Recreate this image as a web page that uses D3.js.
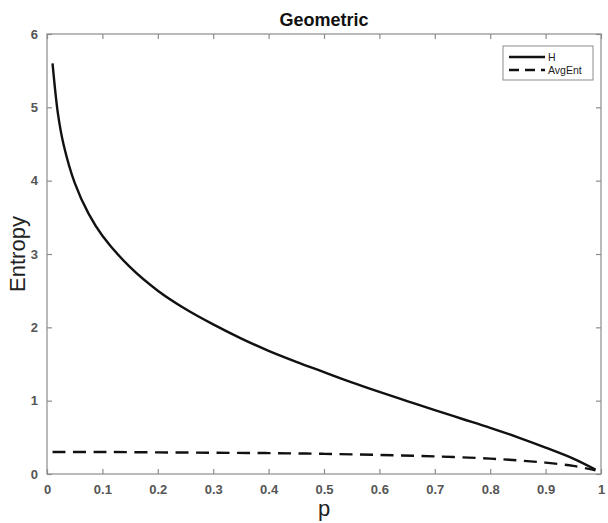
<!DOCTYPE html>
<html><head><meta charset="utf-8">
<script src="https://cdn.jsdelivr.net/npm/d3@7"></script>
<style>body{margin:0;background:#fff}svg{display:block}</style>
</head><body>
<script>
const title = "Geometric";
const xLabel = "p";
const yLabel = "Entropy";
const xTicks = [0,0.1,0.2,0.3,0.4,0.5,0.6,0.7,0.8,0.9,1];
const xTickLabels = ["0","0.1","0.2","0.3","0.4","0.5","0.6","0.7","0.8","0.9","1"];
const yTicks = [0,1,2,3,4,5,6];
const seriesNames = ["H","AvgEnt"];
const pH = [0.01,0.02,0.03,0.05,0.075,0.1,0.15,0.2,0.25,0.3,0.35,0.4,0.45,0.5,0.55,0.6,0.65,0.7,0.75,0.8,0.85,0.9,0.95,0.99];
const valH = [5.60,4.90,4.49,3.97,3.55,3.25,2.82,2.50,2.25,2.04,1.85,1.68,1.53,1.39,1.25,1.12,0.995,0.87,0.75,0.63,0.50,0.36,0.21,0.06];
const pAvg = [0.01,0.1,0.2,0.3,0.4,0.5,0.6,0.7,0.8,0.85,0.9,0.95,0.99];
const valAvg = [0.30,0.30,0.295,0.29,0.285,0.275,0.26,0.24,0.21,0.185,0.155,0.11,0.05];

const W=608,H=523;
const L=47,R=601,T=34,B=474;
const svg=d3.select("body").append("svg").attr("width",W).attr("height",H);
const x=d3.scaleLinear().domain([0,1]).range([L,R]);
const y=d3.scaleLinear().domain([0,6]).range([B,T]);
const font="Liberation Sans, Arial, Helvetica, sans-serif";
const axisCol="#8c8c8c", labCol="#555";

svg.append("rect").attr("x",L).attr("y",T).attr("width",R-L).attr("height",B-T)
  .attr("fill","none").attr("stroke",axisCol).attr("stroke-width",1.2);

const tl=5;
const gx=svg.append("g").attr("transform",`translate(0,${B})`)
  .call(d3.axisBottom(x).tickValues(xTicks).tickFormat((d,i)=>xTickLabels[i]).tickSizeInner(-tl).tickSizeOuter(0).tickPadding(11));
const gxt=svg.append("g").attr("transform",`translate(0,${T})`)
  .call(d3.axisTop(x).tickValues(xTicks).tickFormat("").tickSizeInner(-tl).tickSizeOuter(0));
const gy=svg.append("g").attr("transform",`translate(${L},0)`)
  .call(d3.axisLeft(y).tickValues(yTicks).tickFormat(d3.format("d")).tickSizeInner(-tl).tickSizeOuter(0).tickPadding(9));
const gyr=svg.append("g").attr("transform",`translate(${R},0)`)
  .call(d3.axisRight(y).tickValues(yTicks).tickFormat("").tickSizeInner(-tl).tickSizeOuter(0));
[gx,gxt,gy,gyr].forEach(g=>{
  g.select(".domain").remove();
  g.selectAll("line").attr("stroke",axisCol).attr("stroke-width",1.2);
  g.selectAll("text").attr("fill",labCol).attr("font-family",font).attr("font-size",13).attr("font-weight","bold");
});

const line=d3.line().x(d=>x(d[0])).y(d=>y(d[1])).curve(d3.curveCatmullRom.alpha(0.5));
svg.append("path").datum(pH.map((p,i)=>[p,valH[i]])).attr("d",line)
  .attr("fill","none").attr("stroke","#111").attr("stroke-width",2.4);
svg.append("path").datum(pAvg.map((p,i)=>[p,valAvg[i]])).attr("d",line)
  .attr("fill","none").attr("stroke","#111").attr("stroke-width",2.4).attr("stroke-dasharray","13,7.5");

svg.append("text").attr("x",(L+R)/2).attr("y",26).attr("text-anchor","middle")
  .attr("font-family",font).attr("font-weight","bold").attr("font-size",18).attr("fill","#111").text(title);
svg.append("text").attr("x",(L+R)/2).attr("y",516).attr("text-anchor","middle")
  .attr("font-family",font).attr("font-size",22).attr("fill","#222").text(xLabel);
svg.append("text").attr("transform",`translate(25,${(T+B)/2}) rotate(-90)`).attr("text-anchor","middle")
  .attr("font-family",font).attr("font-size",22).attr("fill","#222").text(yLabel);

const lg=svg.append("g");
lg.append("rect").attr("x",503).attr("y",46).attr("width",90).attr("height",34)
  .attr("fill","#fff").attr("stroke",axisCol).attr("stroke-width",1);
seriesNames.forEach((n,i)=>{
  const yy=57+i*13;
  lg.append("line").attr("x1",509).attr("x2",545).attr("y1",yy).attr("y2",yy)
    .attr("stroke","#111").attr("stroke-width",2.4).attr("stroke-dasharray",i? "10,6":null);
  lg.append("text").attr("x",548).attr("y",yy+4).attr("font-family",font).attr("font-size",10.5)
    .attr("fill","#222").text(n);
});
</script>
</body></html>
